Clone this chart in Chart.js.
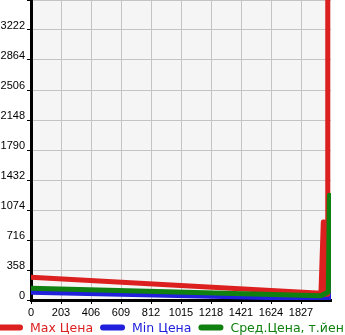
<!DOCTYPE html>
<html>
<head>
<meta charset="utf-8">
<script src="https://cdn.jsdelivr.net/npm/chart.js@4/dist/chart.umd.min.js"></script>
<style>
  html, body { margin: 0; padding: 0; background: #fff; overflow: hidden; }
  #wrap { width: 345px; height: 335px; }
</style>
</head>
<body>
<div id="wrap"><canvas id="chart"></canvas></div>
<script>
const seriesNames = ['Max Цена', 'Min Цена', 'Сред.Цена, т.йен']
const seriesColors = ['rgb(220,32,32)', 'rgb(32,32,220)', 'rgb(16,128,16)']
const seriesOrder = [1, 2, 0]

// each series: x positions and prices
const maxX = [0, 1962, 1978, 1982, 2005, 2008]
const maxY = [271, 80, 930, 70, 70, 6000]
const minX = [0, 1962, 2018, 2025]
const minY = [92, 16, 28, 240]
const avgX = [0, 1962, 2012, 2019]
const avgY = [140, 50, 95, 1250]

const xTicks = [0, 203, 406, 609, 812, 1015, 1218, 1421, 1624, 1827]
const yTicks = [0, 358, 716, 1074, 1432, 1790, 2148, 2506, 2864, 3222]
const xMax = 2030
const yMax = 3580

const tickFont = { family: '"Liberation Sans", Arial, sans-serif', size: 11 }

const toPoints = (xs, ys) => xs.map((x, i) => ({ x: x, y: ys[i] }))

const plotBg = {
  id: 'plotBg',
  beforeDraw(chart) {
    const { ctx, chartArea } = chart
    ctx.save()
    ctx.fillStyle = '#f5f5f5'
    ctx.fillRect(chartArea.left, chartArea.top, chartArea.right - chartArea.left, chartArea.bottom - chartArea.top)
    ctx.restore()
  }
}

// legend row under the axis, runs off the right edge like the original
const bottomLegend = {
  id: 'bottomLegend',
  afterDraw(chart) {
    const ctx = chart.ctx
    const y = 327.5
    let x = -2
    ctx.save()
    ctx.font = '12.5px "DejaVu Sans", Verdana, sans-serif'
    ctx.textBaseline = 'middle'
    chart.data.datasets.forEach(ds => {
      ctx.strokeStyle = ds.borderColor
      ctx.lineWidth = 6
      ctx.lineCap = 'round'
      ctx.beginPath()
      ctx.moveTo(x + 3, y)
      ctx.lineTo(x + 22, y)
      ctx.stroke()
      ctx.fillStyle = ds.borderColor
      ctx.fillText(ds.label, x + 32, y + 1)
      x += 32 + ctx.measureText(ds.label).width + 7
    })
    ctx.restore()
  }
}

const mkData = [toPoints(maxX, maxY), toPoints(minX, minY), toPoints(avgX, avgY)]

new Chart(document.getElementById('chart'), {
  type: 'line',
  data: {
    datasets: mkData.map((pts, i) => ({
      label: seriesNames[i],
      data: pts,
      order: seriesOrder[i],
      borderColor: seriesColors[i],
      backgroundColor: seriesColors[i],
      borderWidth: 5,
      borderCapStyle: 'round',
      borderJoinStyle: 'round',
      pointRadius: 0,
      tension: 0,
      fill: false
    }))
  },
  options: {
    responsive: true,
    maintainAspectRatio: false,
    animation: false,
    layout: { padding: { left: 0, right: 14, top: 0, bottom: 0 } },
    plugins: {
      legend: { display: false },
      tooltip: { enabled: false }
    },
    scales: {
      x: {
        type: 'linear',
        min: 0,
        max: xMax,
        afterBuildTicks: s => { s.ticks = xTicks.map(v => ({ value: v })) },
        afterFit: s => { s.height = 35; s.paddingLeft = 0 },
        grid: { color: '#c4c4c4', tickColor: '#000', tickLength: 4, lineWidth: 1 },
        border: { color: '#000', width: 3 },
        ticks: {
          color: '#000',
          padding: 2,
          maxRotation: 0,
          autoSkip: false,
          callback: v => String(v),
          font: tickFont
        }
      },
      y: {
        min: 0,
        max: yMax,
        afterBuildTicks: s => { s.ticks = yTicks.concat([yMax]).map(v => ({ value: v })) },
        afterFit: s => { s.width = 31; s.paddingTop = 0; s.paddingBottom = 0 },
        grid: { color: '#c4c4c4', tickColor: '#000', tickLength: 4, lineWidth: 1 },
        border: { color: '#000', width: 3 },
        ticks: {
          color: '#000',
          padding: 2,
          labelOffset: -4,
          autoSkip: false,
          callback: v => (v === yMax ? '' : String(v)),
          font: tickFont
        }
      }
    }
  },
  plugins: [plotBg, bottomLegend]
})
</script>
</body>
</html>
